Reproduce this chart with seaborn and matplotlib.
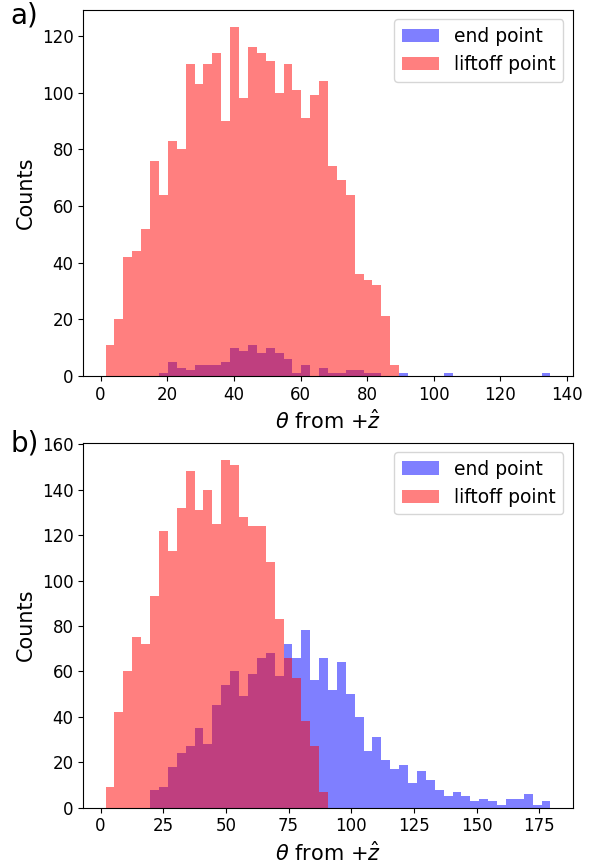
import numpy as np
import pandas as pd
import matplotlib
matplotlib.use("Agg")
import matplotlib.pyplot as plt
from matplotlib.patches import Patch
import seaborn as sns

# ---- data (bin counts) ----
# Panel a)
a_bin_start = 1.5
a_bin_width = 2.67
a_end_counts = [0, 0, 0, 0, 0, 0, 1, 5, 3, 2,
                4, 4, 4, 5, 10, 9, 11, 8, 10, 8,
                6, 1, 4, 0, 3, 1, 1, 2, 2, 1,
                1, 0, 0, 1, 0, 0, 0, 0, 1, 0,
                0, 0, 0, 0, 0, 0, 0, 0, 0, 1]
a_liftoff_counts = [11, 20, 42, 44, 52, 76, 64, 83, 80, 110,
                    103, 110, 114, 90, 123, 98, 116, 114, 111, 100,
                    110, 101, 91, 99, 104, 74, 69, 64, 36, 34,
                    32, 21, 4]

# Panel b)
b_bin_start = 2.0
b_bin_width = 3.55
b_end_counts = [0, 0, 0, 0, 0, 8, 9, 18, 24, 27,
                35, 28, 45, 54, 60, 49, 59, 66, 68, 58,
                72, 66, 78, 56, 66, 52, 64, 50, 40, 25,
                31, 21, 17, 19, 11, 16, 12, 8, 5, 7,
                5, 3, 4, 3, 1, 4, 4, 6, 1, 3]
b_liftoff_counts = [9, 42, 60, 75, 72, 93, 122, 113, 132, 148,
                    131, 140, 125, 153, 151, 128, 124, 124, 108, 83,
                    66, 57, 38, 27, 7]

series_labels = ["end point", "liftoff point"]
series_colors = ["blue", "red"]
panel_letters = ["a)", "b)"]
x_label = r"$\theta$ from $+\hat{z}$"
y_label = "Counts"


def draw_hist(ax, start, width, counts, color):
    counts = np.asarray(counts, dtype=float)
    n = len(counts)
    edges = start + width * np.arange(n + 1)
    df = pd.DataFrame({"theta": 0.5 * (edges[:-1] + edges[1:]),
                       "count": counts})
    sns.histplot(data=df, x="theta", weights="count",
                 bins=[float(e) for e in edges], ax=ax,
                 color=color, alpha=0.5, linewidth=0, stat="count")


fig = plt.figure(figsize=(6.04, 8.63), dpi=100)
ax1 = fig.add_axes([0.1379, 0.5643, 0.8103, 0.4241])
ax2 = fig.add_axes([0.1379, 0.0641, 0.8103, 0.4229])

panels = [
    (ax1, a_bin_start, a_bin_width, a_end_counts, a_liftoff_counts),
    (ax2, b_bin_start, b_bin_width, b_end_counts, b_liftoff_counts),
]

for ax, start, width, end_c, lift_c in panels:
    draw_hist(ax, start, width, end_c, series_colors[0])
    draw_hist(ax, start, width, lift_c, series_colors[1])
    ax.set_xlabel(x_label, fontsize=15)
    ax.set_ylabel(y_label, fontsize=15)
    ax.tick_params(labelsize=12)
    handles = [Patch(facecolor=c, alpha=0.5, label=l)
               for c, l in zip(series_colors, series_labels)]
    ax.legend(handles=handles, loc="upper right", fontsize=13.5)

ax1.set_xticks(np.arange(0, 141, 20))
ax1.set_yticks(np.arange(0, 121, 20))
ax2.set_xticks(np.arange(0, 176, 25))
ax2.set_yticks(np.arange(0, 161, 20))

fig.text(0.018, 0.9728, panel_letters[0], fontsize=20, va="baseline")
fig.text(0.018, 0.4774, panel_letters[1], fontsize=20, va="baseline")

fig.savefig("out.png", dpi=100)
